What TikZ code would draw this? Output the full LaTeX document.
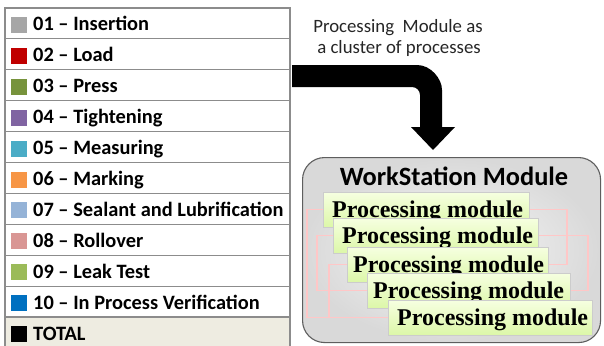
\documentclass[tikz,border=0pt]{standalone}
\usepackage{fontspec}
\setmainfont{Carlito}
\newfontfamily\tmsfont{Liberation Serif}
\usetikzlibrary{shadows}
\definecolor{c01}{HTML}{A6A6A6}
\definecolor{c02}{HTML}{C00000}
\definecolor{c03}{HTML}{77933C}
\definecolor{c04}{HTML}{8064A2}
\definecolor{c05}{HTML}{4BACC6}
\definecolor{c06}{HTML}{F79646}
\definecolor{c07}{HTML}{95B3D7}
\definecolor{c08}{HTML}{D99694}
\definecolor{c09}{HTML}{9BBB59}
\definecolor{c10}{HTML}{0070C0}
\definecolor{c11}{HTML}{000000}
\definecolor{totalbg}{HTML}{EEECE1}
\definecolor{gridc}{HTML}{8C8C8C}
\definecolor{pmtop}{RGB}{246,255,224}
\definecolor{pmbot}{RGB}{220,247,168}
\definecolor{wsedge}{HTML}{5E5E5E}
\definecolor{capc}{HTML}{262626}
\tikzset{
  tableline/.style={draw=gridc, line width=1.2pt},
  lbl/.style={font=\bfseries\fontsize{20.4}{24}\selectfont, inner sep=0pt, anchor=base west},
  captxt/.style={font=\fontsize{18.8}{22}\selectfont, text=capc, inner sep=0pt, anchor=base},
  wsbox/.style={draw=wsedge, line width=1.1pt, rounded corners=22pt, inner color=gray!5, outer color=gray!30, anchor=north west, minimum height=185pt, minimum width=298pt, inner sep=0pt},
  pmbox/.style={draw=gray!40, line width=.5pt, top color=pmtop, bottom color=pmbot, anchor=north west, minimum height=35pt, inner sep=0pt, drop shadow={shadow xshift=1pt, shadow yshift=-1pt, opacity=.2}},
  pmtxt/.style={font=\tmsfont\bfseries\fontsize{24}{28}\selectfont, inner sep=0pt, anchor=base west},
  linkb/.style={draw=blue!30!white, line width=.6pt},
  linkr/.style={draw=red!22!white, line width=1.1pt, yshift=-2.5pt, xshift=1pt},
}
\begin{document}
\begin{tikzpicture}[x=1pt,y=-1pt]
\useasboundingbox (0,0) rectangle (604,345);
\fill[white] (0,0) rectangle (604,345);
% legend table
\fill[totalbg] (5,317) rectangle (290,350);
\foreach \i/\c/\t in {1/c01/{01 – Insertion},2/c02/{02 – Load},3/c03/{03 – Press},4/c04/{04 – Tightening},5/c05/{05 – Measuring},6/c06/{06 – Marking},7/c07/{07 – Sealant and Lubrification},8/c08/{08 – Rollover},9/c09/{09 – Leak Test},10/c10/{10 – In Process Verification},11/c11/{TOTAL}}{
  \pgfmathsetmacro\rtop{8+(\i-1)*30.9}
  \draw[tableline] (5,\rtop) rectangle (290,\rtop+30.9);
  \fill[\c] (11,\rtop+9) rectangle (27,\rtop+25);
  \node[lbl] (t\i) at (33,\rtop+23) {\t};
}
% caption
\node[captxt] (cap1) at (398,33) {Processing\ \ Module as};
\node[captxt] (cap2) at (399,53) {a cluster of processes};
% bent arrow
\fill[black] (292,65) -- (417,65) .. controls (430.8,65) and (442,78.8) .. (442,90)
  -- (442,127) -- (455,127) -- (433,150) -- (411,127) -- (420,127) -- (420,95)
  .. controls (420,90.6) and (416.4,87) .. (412,87) -- (292,87) -- cycle;
% workstation box
\node[wsbox] (ws) at (302,157) {};
\node[font=\bfseries\fontsize{26.4}{30}\selectfont, inner sep=0pt, anchor=base] (wst) at (454,185) {WorkStation Module};
% coordinates of boxes (for connectors drawn first)
\path (323,192) coordinate (a1) (333,218) coordinate (a2) (347,247) coordinate (a3) (367,273) coordinate (a4) (388,300) coordinate (a5);
\path (323,209.5) coordinate (w1) (529,209.5) coordinate (e1)
      (333,235.5) coordinate (w2) (538,235.5) coordinate (e2)
      (347,264.5) coordinate (w3) (548,264.5) coordinate (e3)
      (367,290.5) coordinate (w4) (570,290.5) coordinate (e4)
      (388,317.5) coordinate (w5);
\foreach \s in {linkb,linkr}{
  \draw[\s] (w1) -- ++(-16,0) |- (w5);
  \draw[\s] (e1) -- ++(38,0) |- (e3);
  \draw[\s] (w2) -- ++(-16,0) |- (w4);
  \draw[\s] (e2) -- ++(50,0) |- (e4);
  \draw[\s] (w3) -- ++(-18,0) |- (w5);
}
% processing modules
\node[pmbox, minimum width=206pt] (p1) at (a1) {};
\node[pmtxt] (p1t) at (332,217) {Processing module};
\node[pmbox, minimum width=205pt] (p2) at (a2) {};
\node[pmtxt] (p2t) at (342,243) {Processing module};
\node[pmbox, minimum width=201pt] (p3) at (a3) {};
\node[pmtxt] (p3t) at (353,272) {Processing module};
\node[pmbox, minimum width=203pt] (p4) at (a4) {};
\node[pmtxt] (p4t) at (373,298) {Processing module};
\node[pmbox, minimum width=204pt] (p5) at (a5) {};
\node[pmtxt] (p5t) at (397,325) {Processing module};
\end{tikzpicture}
\end{document}
